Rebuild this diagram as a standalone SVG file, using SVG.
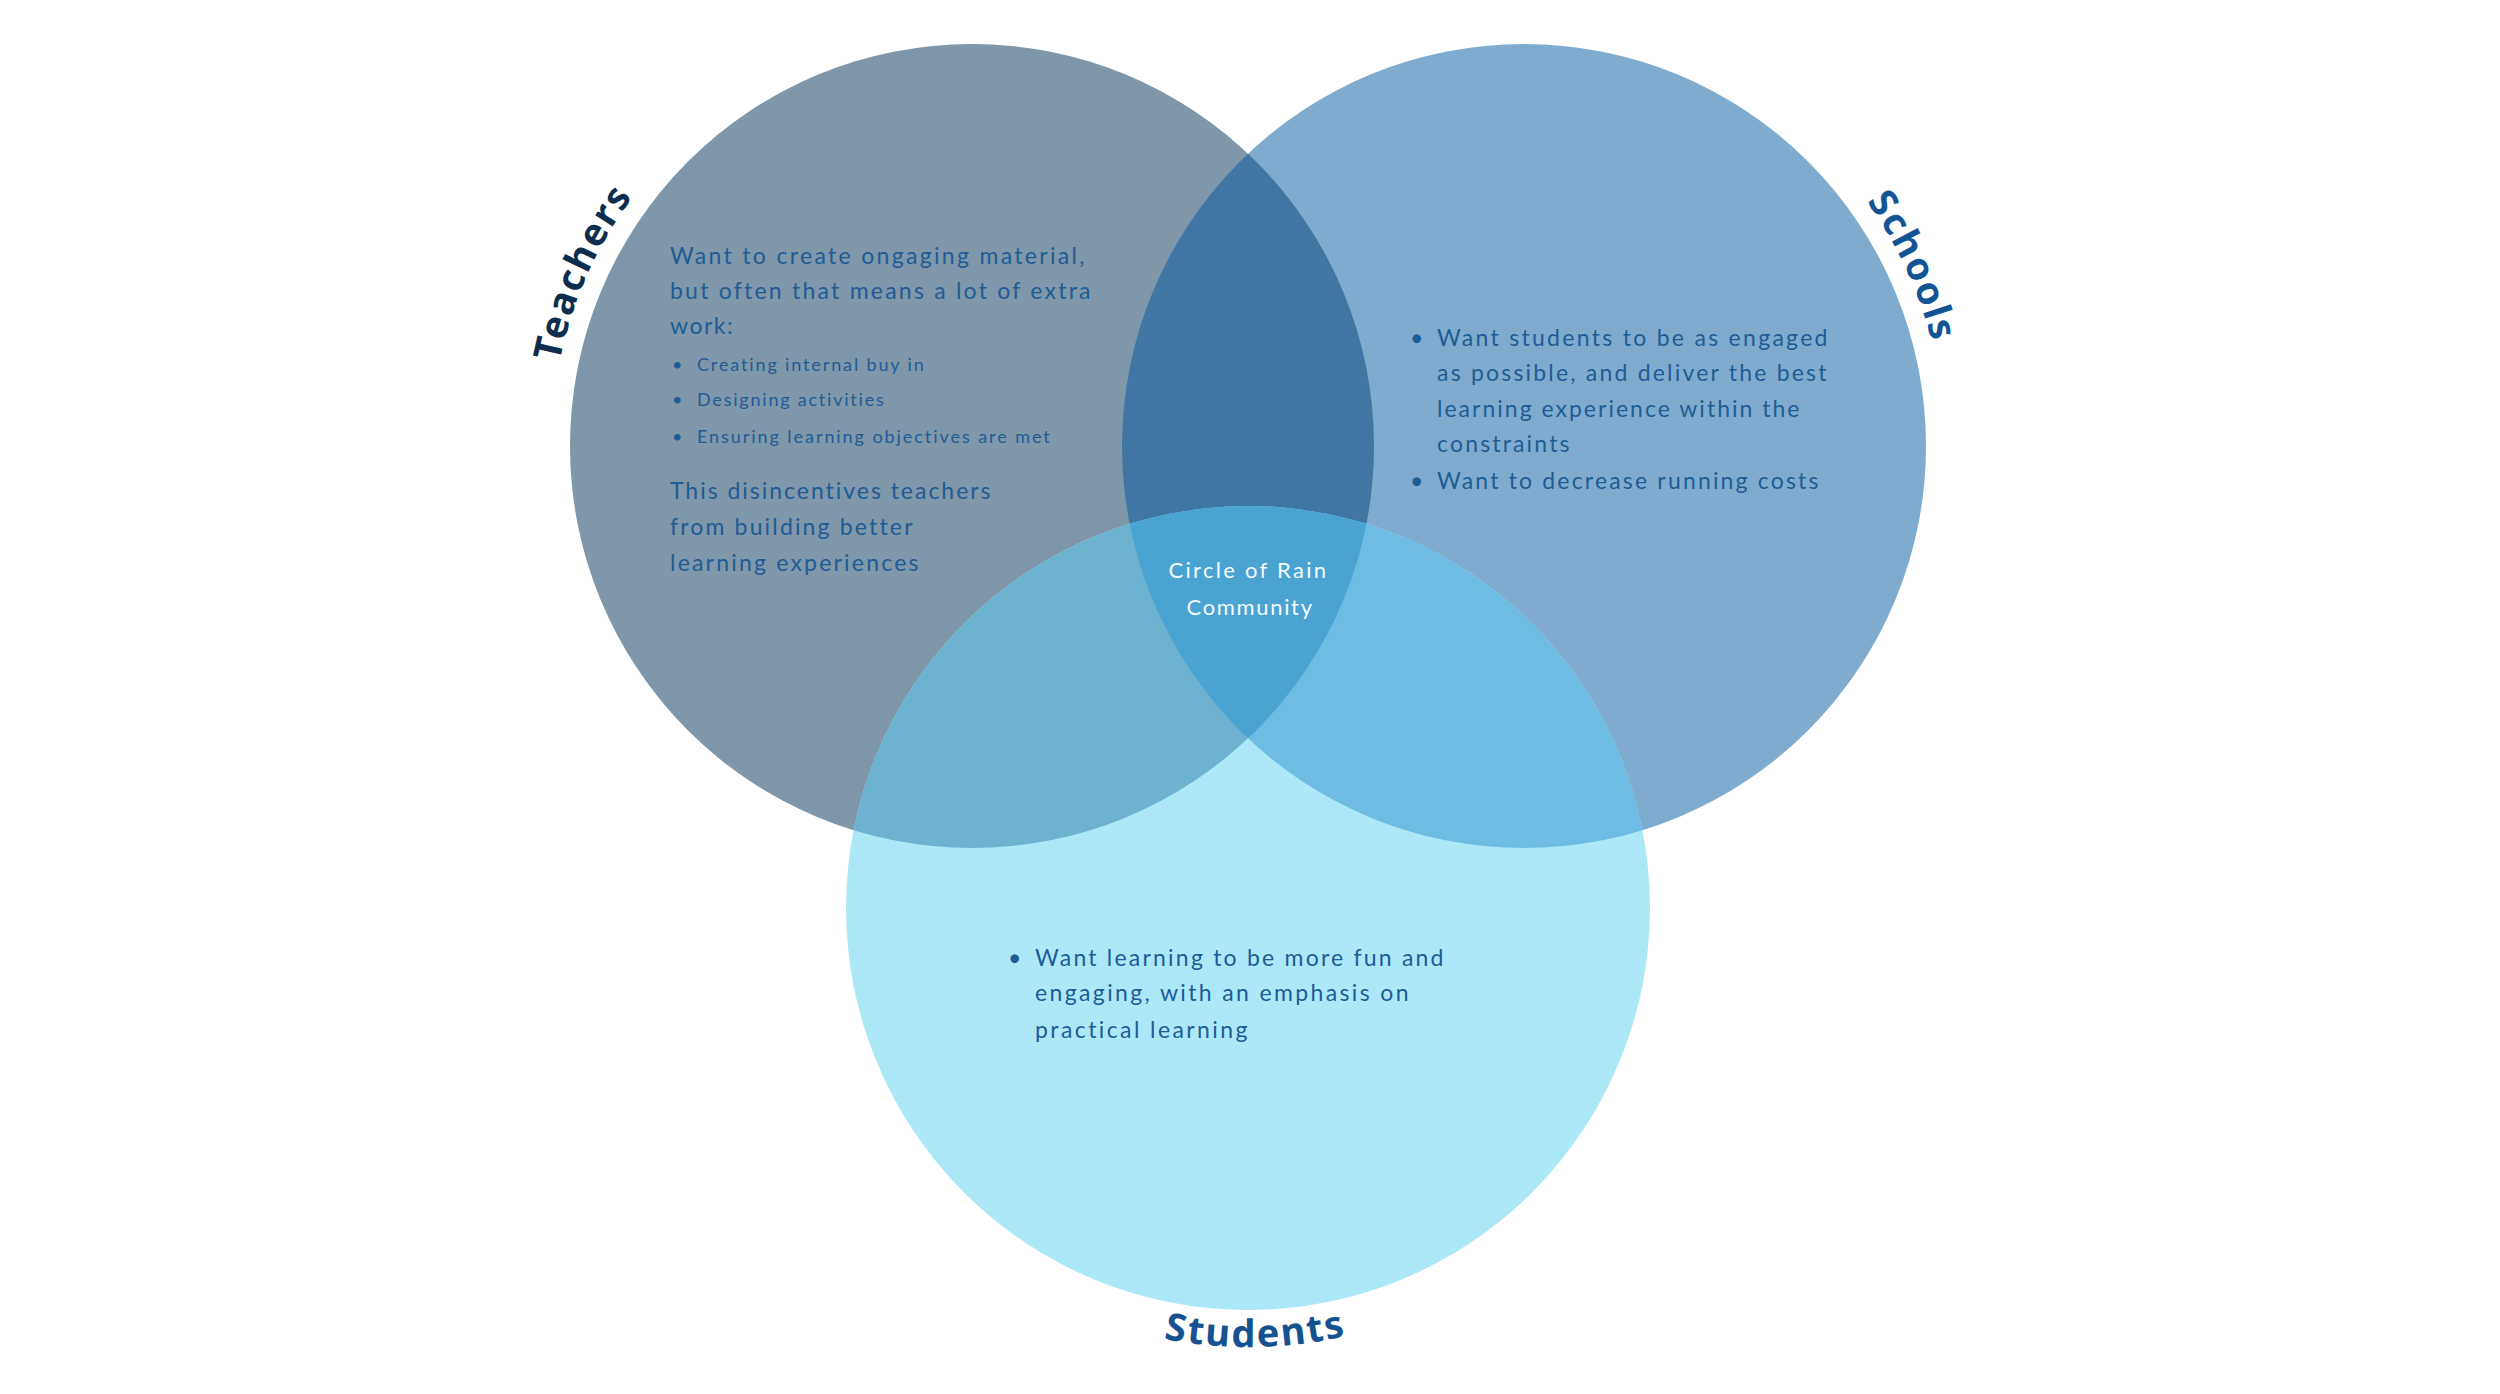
<svg xmlns="http://www.w3.org/2000/svg" xmlns:xlink="http://www.w3.org/1999/xlink" width="2500" height="1394" viewBox="0 0 2500 1394">
<style>
.body{font-family:Lato,"Noto Sans",sans-serif;font-size:23px;fill:#1d5c96;letter-spacing:1.5px}
.small{font-family:Lato,"Noto Sans",sans-serif;font-size:18px;fill:#1d5c96;letter-spacing:1.2px}
.center{font-family:Lato,"Noto Sans",sans-serif;font-size:22px;fill:#f4fbff;letter-spacing:1.5px;text-anchor:middle}
.label{font-family:"Noto Sans","Open Sans",sans-serif;font-size:38px;font-weight:700;letter-spacing:2px;text-anchor:middle}
</style>
<defs>
<clipPath id="cT"><circle cx="972" cy="446" r="402"/></clipPath>
<clipPath id="cS"><circle cx="1524" cy="446" r="402"/></clipPath>
<path id="pT" d="M565.3,555 A421,421 0 0 1 780.9,70.9"/>
<path id="pS" d="M1695.2,61.4 A421,421 0 0 1 1932.5,547.8"/>
<path id="pSt" d="M911.7,1190.2 A439,439 0 0 0 1584.3,1190.2"/>
</defs>
<rect width="2500" height="1394" fill="#ffffff"/>
<g id="circles">
<circle cx="972" cy="446" r="402" fill="#7f97a9"/>
<circle cx="1524" cy="446" r="402" fill="#7facce"/>
<circle cx="1248" cy="908" r="402" fill="#ade8f9"/>
</g>
<g id="overlaps">
<circle cx="1524" cy="446" r="402" fill="#3f76a3" clip-path="url(#cT)"/>
<circle cx="1248" cy="908" r="402" fill="#6db2d1" clip-path="url(#cT)"/>
<circle cx="1248" cy="908" r="402" fill="#6ebbe3" clip-path="url(#cS)"/>
<g clip-path="url(#cT)"><circle cx="1248" cy="908" r="402" fill="#4aa3d1" clip-path="url(#cS)"/></g>
</g>
<g id="teachers">
<text class="label" fill="#0c2d4e"><textPath xlink:href="#pT" href="#pT" startOffset="50%">Teachers</textPath></text>
<text class="body" x="670" y="264" textLength="416" lengthAdjust="spacing">Want to create ongaging material,</text>
<text class="body" x="670" y="299" textLength="422" lengthAdjust="spacing">but often that means a lot of extra</text>
<text class="body" x="670" y="334">work:</text>
<text class="small" x="672" y="371">•</text>
<text class="small" x="697" y="371" textLength="228" lengthAdjust="spacing">Creating internal buy in</text>
<text class="small" x="672" y="406">•</text>
<text class="small" x="697" y="406" textLength="188" lengthAdjust="spacing">Designing activities</text>
<text class="small" x="672" y="443">•</text>
<text class="small" x="697" y="443" textLength="354" lengthAdjust="spacing">Ensuring learning objectives are met</text>
<text class="body" x="670" y="499" textLength="322" lengthAdjust="spacing">This disincentives teachers</text>
<text class="body" x="670" y="535" textLength="244" lengthAdjust="spacing">from building better</text>
<text class="body" x="670" y="571" textLength="250" lengthAdjust="spacing">learning experiences</text>
</g>
<g id="schools">
<text class="label" fill="#135594"><textPath xlink:href="#pS" href="#pS" startOffset="51.5%">Schools</textPath></text>
<text class="body" x="1410" y="346">•</text>
<text class="body" x="1437" y="346" textLength="392" lengthAdjust="spacing">Want students to be as engaged</text>
<text class="body" x="1437" y="381" textLength="391" lengthAdjust="spacing">as possible, and deliver the best</text>
<text class="body" x="1437" y="417" textLength="364" lengthAdjust="spacing">learning experience within the</text>
<text class="body" x="1437" y="452" textLength="134" lengthAdjust="spacing">constraints</text>
<text class="body" x="1410" y="489">•</text>
<text class="body" x="1437" y="489" textLength="383" lengthAdjust="spacing">Want to decrease running costs</text>
</g>
<g id="students">
<text class="label" fill="#15528f"><textPath xlink:href="#pSt" href="#pSt" startOffset="51%">Students</textPath></text>
<text class="body" x="1008" y="966">•</text>
<text class="body" x="1035" y="966" textLength="410" lengthAdjust="spacing">Want learning to be more fun and</text>
<text class="body" x="1035" y="1001" textLength="375" lengthAdjust="spacing">engaging, with an emphasis on</text>
<text class="body" x="1035" y="1038" textLength="214" lengthAdjust="spacing">practical learning</text>
</g>
<g id="community">
<text class="center" x="1248" y="578" textLength="159" lengthAdjust="spacing">Circle of Rain</text>
<text class="center" x="1250" y="615" textLength="127" lengthAdjust="spacing">Community</text>
</g>
<g id="connectors"/>
</svg>
